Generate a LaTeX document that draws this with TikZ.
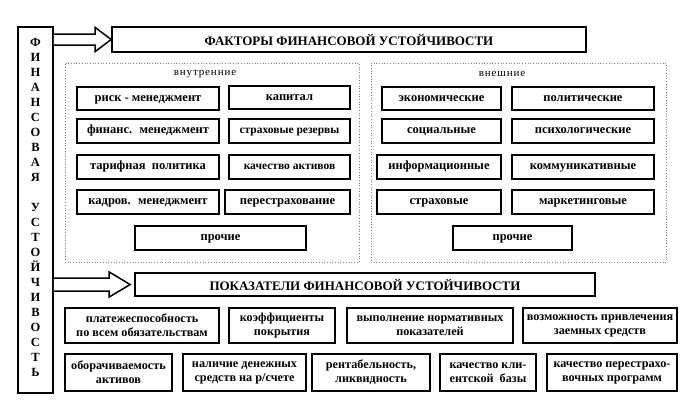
\documentclass[tikz,border=0pt]{standalone}
\usepackage{fontspec}
\setmainfont{Liberation Serif}
\usetikzlibrary{calc}
\tikzset{
  fbox/.style={draw, line width=1.6pt, inner sep=1pt, text height=9pt, text depth=4pt, font=\bfseries\fontsize{12.5}{14}\selectfont},
  narrowtext/.style={font=\bfseries\fontsize{11.5}{14}\selectfont},
  pbox/.style={draw, line width=1.6pt, inner sep=1pt, align=center, font=\bfseries\fontsize{12.2}{14}\selectfont},
  tbox/.style={draw, line width=1.6pt, inner sep=1pt, text height=13pt, text depth=1pt, font=\bfseries\fontsize{13}{15}\selectfont},
  dotframe/.style={draw=gray, dotted, line width=0.7pt},
  grouplabel/.style={font=\fontsize{11}{12}\addfontfeatures{LetterSpace=8}},
  blockarrow/.style={draw, line width=1.5pt, fill=white, line join=miter}
}
\begin{document}
\begin{tikzpicture}[x=1pt, y=-1pt]
\useasboundingbox (0,0) rectangle (686,405);
% vertical box
\node[draw, line width=1.8pt, minimum width=35pt, minimum height=366pt, inner sep=0pt,
  label={[name=vtext, yshift=3pt, align=center, font=\bfseries\fontsize{12.5}{15}\selectfont]center:Ф\\И\\Н\\А\\Н\\С\\О\\В\\А\\Я\\ \\У\\С\\Т\\О\\Й\\Ч\\И\\В\\О\\С\\Т\\Ь}] (fin) at (35.5,210) {};
% titles
\node[tbox, minimum width=474pt, minimum height=25pt] (t1) at (349,39.5) {ФАКТОРЫ ФИНАНСОВОЙ УСТОЙЧИВОСТИ};
\node[tbox, minimum width=460pt, minimum height=23pt] (t2) at (365,284.5) {ПОКАЗАТЕЛИ ФИНАНСОВОЙ УСТОЙЧИВОСТИ};
% block arrows
\draw[blockarrow] ($(fin.east|-t1.west)+(0,-5.5)$) -- ($(t1.west)+(-16,-5.5)$) -- ($(t1.west)+(-16,-12)$) -- (t1.west) -- ($(t1.west)+(-16,12)$) -- ($(t1.west)+(-16,5.5)$) -- ($(fin.east|-t1.west)+(0,5.5)$);
\coordinate (tip2) at ($(t2.west)+(-4,0)$);
\draw[blockarrow] ($(fin.east|-t2.west)+(0,-6.5)$) -- ($(tip2)+(-21,-6.5)$) -- ($(tip2)+(-21,-12.5)$) -- (tip2) -- ($(tip2)+(-21,12.5)$) -- ($(tip2)+(-21,6.5)$) -- ($(fin.east|-t2.west)+(0,6.5)$);
% dotted frames
\node[dotframe, minimum width=294pt, minimum height=199pt, inner sep=0pt] (inner) at (212,162.5) {};
\node[dotframe, minimum width=295pt, minimum height=199pt, inner sep=0pt] (outer) at (518.5,162.5) {};
\node[grouplabel] (lin) at (205,74) {внутренние};
\node[grouplabel] (lout) at (502,74) {внешние};
% internal factors
\node[fbox, minimum width=142pt, minimum height=23pt] (i1) at (148,98.5) {риск - менеджмент};
\node[fbox, minimum width=121pt, minimum height=23pt] (i2) at (289.5,97.5) {капитал};
\node[fbox, minimum width=142pt, minimum height=24pt] (i3) at (148,131) {финанс.~ менеджмент};
\node[fbox, narrowtext, minimum width=121pt, minimum height=24pt] (i4) at (289.5,131) {страховые резервы};
\node[fbox, minimum width=142pt, minimum height=24pt] (i5) at (148,167) {тарифная~ политика};
\node[fbox, narrowtext, minimum width=121pt, minimum height=24pt] (i6) at (289.5,167) {качество активов};
\node[fbox, minimum width=142pt, minimum height=24pt] (i7) at (148,202) {кадров.~ менеджмент};
\node[fbox, minimum width=125pt, minimum height=24pt] (i8) at (287.5,202) {перестрахование};
\node[fbox, minimum width=171pt, minimum height=24pt] (i9) at (220.5,238) {прочие};
% external factors
\node[fbox, minimum width=119pt, minimum height=23pt] (e1) at (441.5,98.5) {экономические};
\node[fbox, minimum width=142pt, minimum height=23pt] (e2) at (583,98.5) {политические};
\node[fbox, minimum width=119pt, minimum height=24pt] (e3) at (441.5,131) {социальные};
\node[fbox, minimum width=142pt, minimum height=24pt] (e4) at (583,131) {психологические};
\node[fbox, minimum width=124pt, minimum height=24pt] (e5) at (439,167) {информационные};
\node[fbox, minimum width=142pt, minimum height=24pt] (e6) at (583,167) {коммуникативные};
\node[fbox, minimum width=124pt, minimum height=24pt] (e7) at (439,202) {страховые};
\node[fbox, minimum width=142pt, minimum height=24pt] (e8) at (583,202) {маркетинговые};
\node[fbox, minimum width=119pt, minimum height=24pt] (e9) at (512.5,238) {прочие};
% indicators row 1
\node[pbox, minimum width=154pt, minimum height=35pt] (p1) at (142,325.5) {платежеспособность\\по всем обязательствам};
\node[pbox, minimum width=106pt, minimum height=35pt] (p2) at (282,325.5) {коэффициенты\\покрытия};
\node[pbox, minimum width=166pt, minimum height=35pt] (p3) at (430,325.5) {выполнение нормативных\\показателей};
\node[pbox, minimum width=154pt, minimum height=35pt] (p4) at (600,325.5) {возможность привлечения\\заемных средств};
% indicators row 2
\node[pbox, minimum width=107pt, minimum height=37pt] (q1) at (118.5,372.5) {оборачиваемость\\активов};
\node[pbox, minimum width=123pt, minimum height=37pt] (q2) at (244.5,372.5) {наличие денежных\\средств на р/счете};
\node[pbox, minimum width=118pt, minimum height=37pt] (q3) at (371,372.5) {рентабельность,\\ликвидность};
\node[pbox, minimum width=96pt, minimum height=37pt] (q4) at (488,372.5) {качество кли-\\ентской~ базы};
\node[pbox, minimum width=130pt, minimum height=37pt] (q5) at (612,372.5) {качество перестрахо-\\вочных программ};
\end{tikzpicture}
\end{document}
